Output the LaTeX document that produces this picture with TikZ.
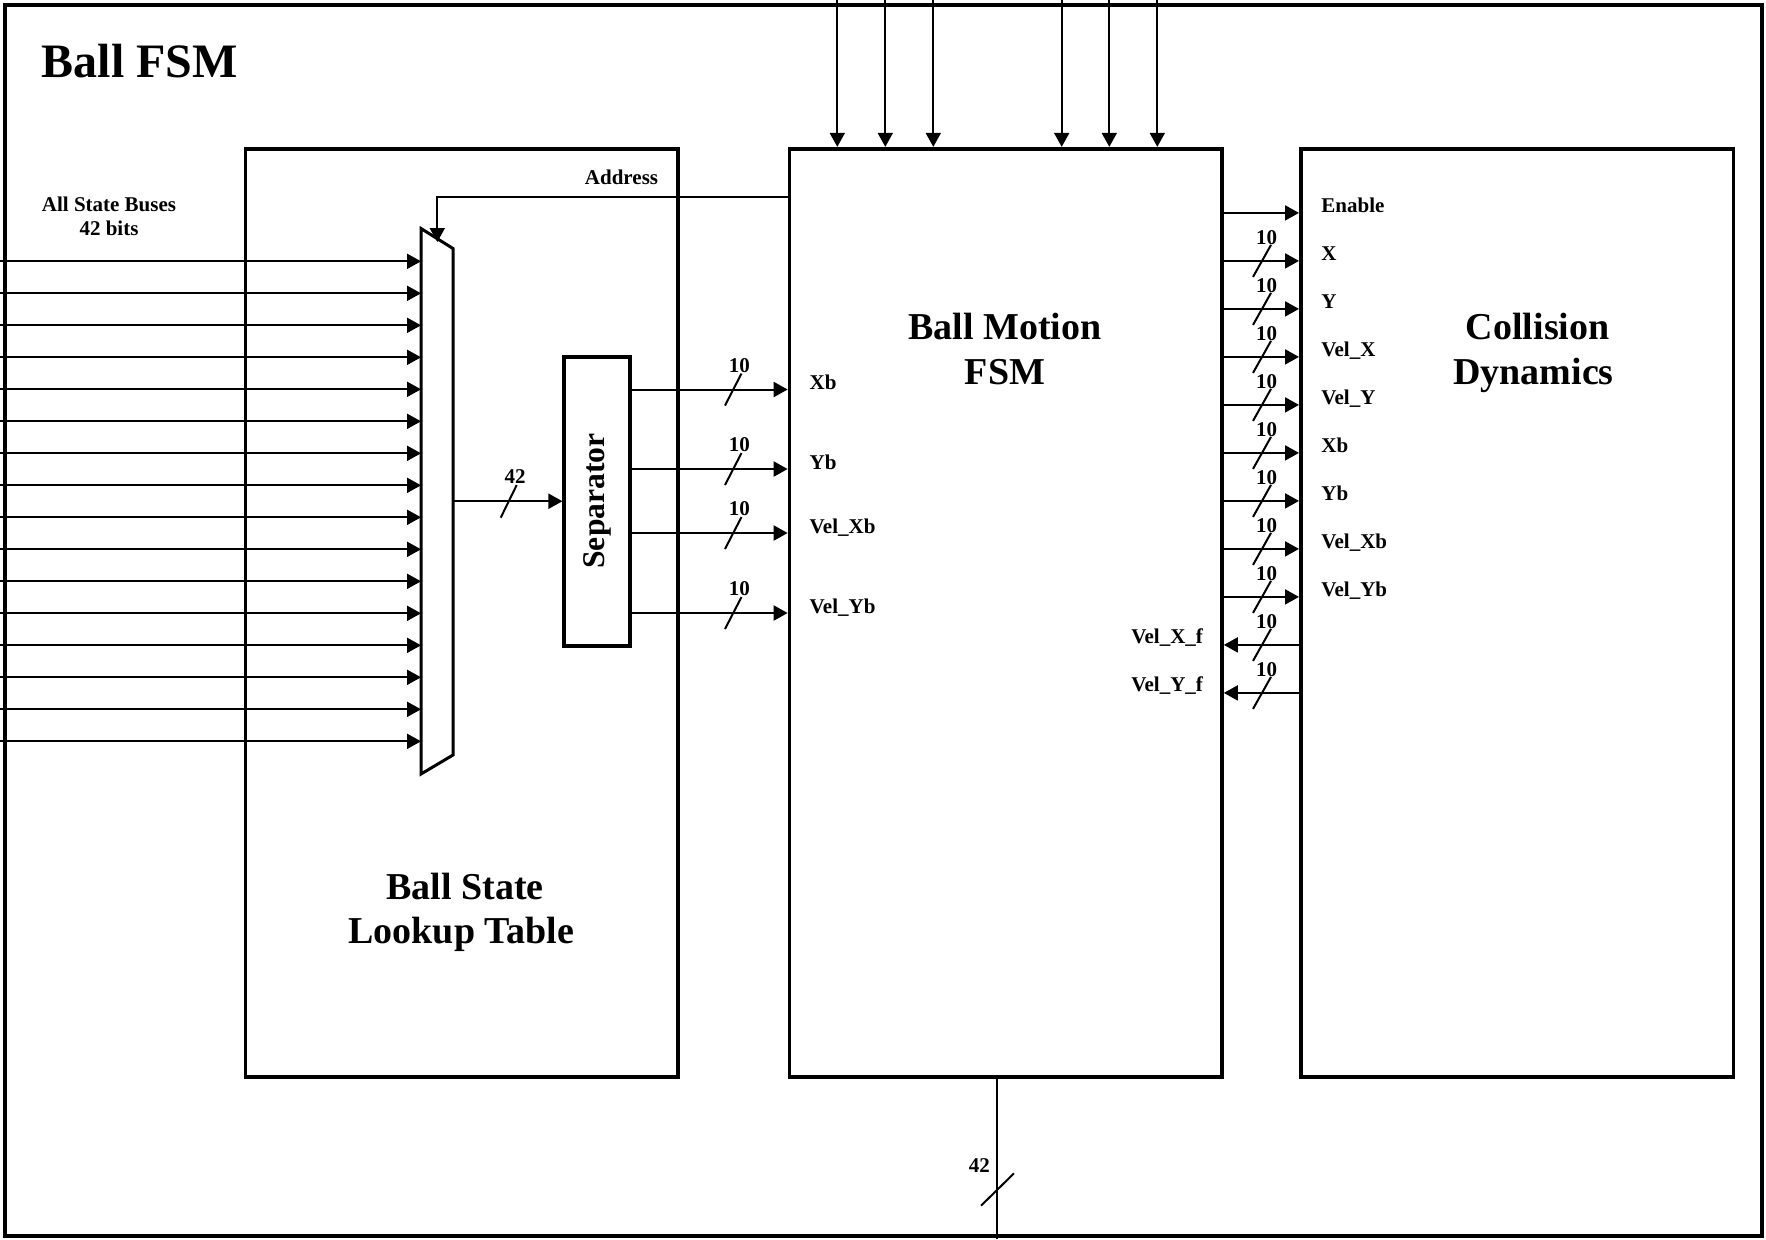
\documentclass[tikz,border=0pt]{standalone}
\usepackage{fontspec}
\setmainfont{Liberation Serif}
\usetikzlibrary{arrows.meta}
\begin{document}
\begin{tikzpicture}[x=0.5pt,y=-0.5pt,
  box/.style={draw,line width=1.85pt,inner sep=0pt,minimum width=216.25pt,minimum height=464pt},
  conn/.style={line width=1pt},
  arr/.style={conn,-{Triangle[length=7pt,width=7.5pt]}},
  slash/.style={line width=1pt},
  lbl/.style={font=\fontsize{10.5}{11.7}\selectfont\bfseries,inner sep=0pt},
  big/.style={font=\fontsize{19}{22}\selectfont\bfseries,inner sep=0pt},
  ]
\useasboundingbox[fill=white] (0,0) rectangle (1766,1239);

% outer frame and blocks
\node[draw,line width=1.7pt,minimum width=878.5pt,minimum height=615.5pt,inner sep=0pt] (frame) at (883.5,620.5) {};
\node[box] (lut) at (461.75,612.7) {};
\node[box] (fsm) at (1005.75,612.7) {};
\node[box] (cd) at (1517.1,612.7) {};
\node[draw,line width=1.85pt,inner sep=0pt,minimum width=32.85pt,minimum height=144.5pt] (sep) at (597.15,501.2) {};

% multiplexer
\coordinate (mtl) at (421,228.5);
\coordinate (mtr) at (453,248.5);
\coordinate (mbr) at (453,755);
\coordinate (mbl) at (421,774);
\draw[line width=1.5pt] (mtl) -- (mtr) -- (mbr) -- (mbl) -- cycle;

% titles
\node[font=\fontsize{24}{28}\selectfont\bfseries,inner sep=0pt,anchor=base west] (title) at (41.5,77) {Ball FSM};
\node[big,anchor=base] (lut1) at (465,899.3) {Ball State};
\node[big,anchor=base] (lut2) at (461.3,943.3) {Lookup Table};
\node[big,anchor=base] (fsm1) at (1005,339.3) {Ball Motion};
\node[big,anchor=base] (fsm2) at (1005,384) {FSM};
\node[big,anchor=base] (cd1) at (1537.7,339.3) {Collision};
\node[big,anchor=base] (cd2) at (1533.5,384) {Dynamics};
\node[font=\fontsize{15.8}{18}\selectfont\bfseries,inner sep=0pt,rotate=90,anchor=base] (septxt) at (604.5,501) {Separator};

% state buses into the mux
\node[lbl,align=center] (buses) at (109,216.2) {All State Buses\\42 bits};
\foreach \i in {0,...,15} {
  \pgfmathsetmacro\yy{261.3+32*\i}
  \coordinate (bin\i) at (0,\yy);
  \coordinate (bmx\i) at (421,\yy);
  \draw[arr] (bin\i) -- (bmx\i);
}

% address
\node[lbl,anchor=base east] (addr) at (658.5,184.3) {Address};
\coordinate (addrtip) at (437.3,242);
\draw[arr] (fsm.west |- 0,197.3) -| (addrtip);

% mux -> separator
\coordinate (mout) at (453,501.2);
\draw[arr] (mout) -- (sep.west);
\draw[slash] (500.7,517.7) -- (516.7,485);
\node[lbl] (w42a) at (515,476.7) {42};

% separator -> FSM
\foreach \y/\n/\t in {389.5/a/Xb, 469/b/Yb, 533/c/Vel\_Xb, 613/d/Vel\_Yb} {
  \draw[arr] (sep.east |- 0,\y) -- (fsm.west |- 0,\y);
  \draw[slash] (725,{\y+16}) -- (741.5,{\y-16});
  \node[lbl] (w\n) at (739.3,{\y-24}) {10};
  \node[lbl,anchor=base west] (in\n) at (809.3,\y) {\t};
}

% FSM -> collision dynamics
\foreach \k/\t in {0/Enable,1/X,2/Y,3/Vel\_X,4/Vel\_Y,5/Xb,6/Yb,7/Vel\_Xb,8/Vel\_Yb} {
  \pgfmathsetmacro\y{212.9+48*\k}
  \draw[arr] (fsm.east |- 0,\y) -- (cd.west |- 0,\y);
  \node[lbl,anchor=base west] (o\k) at (1321,\y) {\t};
}
\foreach \k in {1,...,10} {
  \pgfmathsetmacro\y{212.9+48*\k}
  \draw[slash] (1253,{\y+16}) -- (1271,{\y-16});
  \node[lbl] (r\k) at (1266.7,{\y-23}) {10};
}
% collision dynamics -> FSM
\foreach \k/\t in {9/Vel\_X\_f,10/Vel\_Y\_f} {
  \pgfmathsetmacro\y{212.9+48*\k}
  \draw[arr] (cd.west |- 0,\y) -- (fsm.east |- 0,\y);
  \node[lbl,anchor=base east] (f\k) at (1203.3,{\y-1.5}) {\t};
}

% inputs from top
\foreach \x [count=\j] in {837.3,885.3,933.3,1061.7,1109.3,1157.3} {
  \coordinate (top\j) at (\x,0);
  \draw[arr] (top\j) -- (fsm.north -| top\j);
}

% output at bottom
\coordinate (bot) at (997.3,1239);
\draw[conn] (fsm.south -| bot) -- (bot);
\draw[slash] (981,1205.7) -- (1014,1173.3);
\node[lbl] (w42b) at (979.3,1165.7) {42};
\end{tikzpicture}
\end{document}
